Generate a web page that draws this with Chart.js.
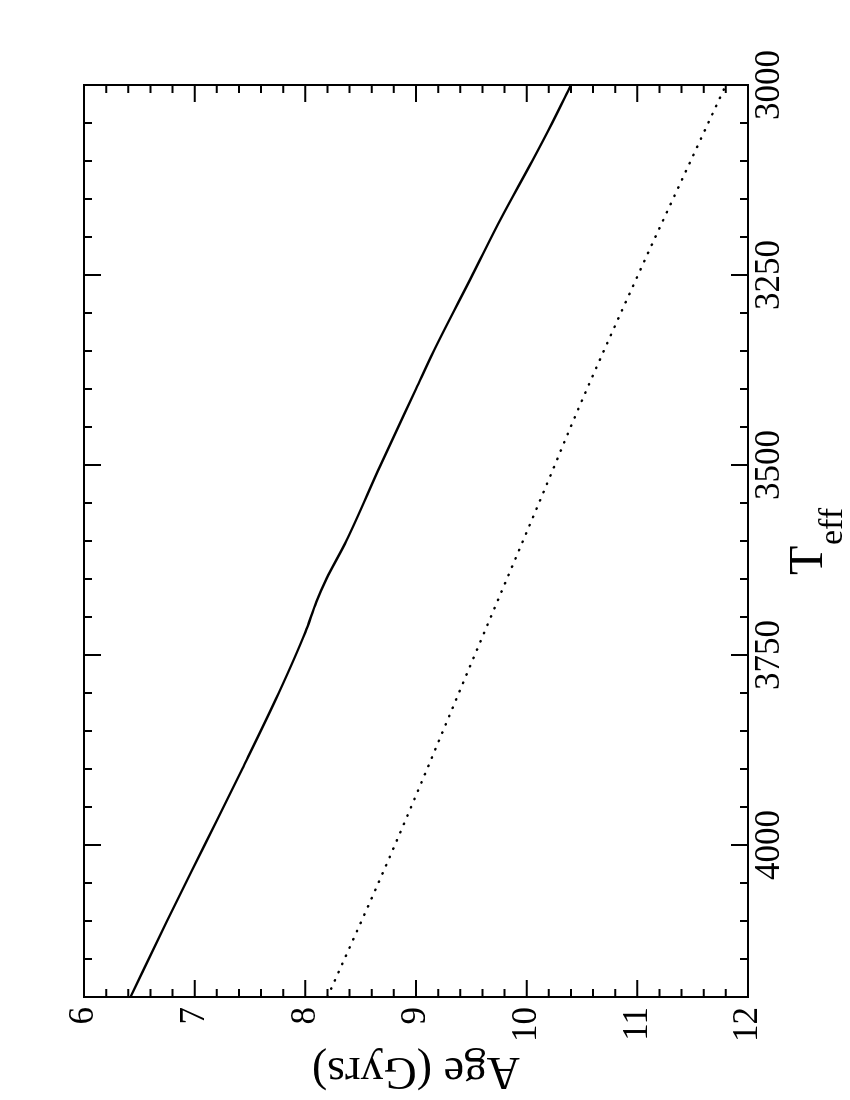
<!DOCTYPE html>
<html>
<head>
<meta charset="utf-8">
<script src="https://cdn.jsdelivr.net/npm/chart.js@4/dist/chart.umd.min.js"></script>
<style>
  html, body { margin: 0; padding: 0; background: #fff; }
  #wrap {
    position: absolute; left: 0; top: 0;
    width: 1100px; height: 850px;
    transform-origin: 0 0;
    transform: translateY(1100px) rotate(-90deg);
  }
</style>
</head>
<body>
<div id="wrap"><canvas id="chart" width="1100" height="850"></canvas></div>
<script>
// solid curve
const teffSolid = [4200, 4100, 4000, 3900, 3800, 3720, 3680, 3650, 3600, 3500, 3400, 3350, 3250, 3175, 3100, 3050, 3000];
const ageSolid  = [6.42, 6.75, 7.09, 7.43, 7.76, 8.00, 8.10, 8.19, 8.37, 8.68, 9.00, 9.16, 9.51, 9.77, 10.05, 10.23, 10.40];
// dotted curve
const teffDotted = [4200, 4020, 3740, 3540, 3415, 3220, 3135, 3000];
const ageDotted  = [8.20, 8.75, 9.56, 10.14, 10.50, 11.10, 11.37, 11.80];
// axes
const teffRange = [3000, 4200];
const teffMajor = 250, teffMinor = 50;
const ageRange = [6, 12];
const ageMajor = 1, ageMinor = 0.2;

const SERIF = "'Liberation Serif', 'DejaVu Serif', serif";

function pairs(xs, ys) {
    return xs.map((x, i) => ({ x: x, y: ys[i] }));
}
function isMajor(v, step) {
    const r = v / step;
    return Math.abs(r - Math.round(r)) < 1e-6;
}

// frame + inward ticks on all four sides, plus T_eff title with subscript
const framePlugin = {
    id: 'frame',
    afterDraw(chart) {
        const ctx = chart.ctx;
        const a = chart.chartArea;
        const xs = chart.scales.x, ys = chart.scales.y;
        ctx.save();
        ctx.strokeStyle = '#000';
        ctx.lineWidth = 2;
        ctx.strokeRect(a.left, a.top, a.right - a.left, a.bottom - a.top);
        ctx.beginPath();
        xs.ticks.forEach(t => {
            const px = xs.getPixelForValue(t.value);
            const len = isMajor(t.value, teffMajor) ? 17 : 8;
            ctx.moveTo(px, a.bottom); ctx.lineTo(px, a.bottom - len);
            ctx.moveTo(px, a.top); ctx.lineTo(px, a.top + len);
        });
        ys.ticks.forEach(t => {
            const py = ys.getPixelForValue(t.value);
            const len = isMajor(t.value, ageMajor) ? 17 : 8;
            ctx.moveTo(a.left, py); ctx.lineTo(a.left + len, py);
            ctx.moveTo(a.right, py); ctx.lineTo(a.right - len, py);
        });
        ctx.stroke();

        ctx.fillStyle = '#000';
        ctx.textAlign = 'left';
        ctx.textBaseline = 'alphabetic';
        ctx.font = '48px ' + SERIF;
        ctx.fillText('T', 525, 822);
        ctx.font = '34px ' + SERIF;
        ctx.fillText('eff', 555, 842);
        ctx.restore();
    }
};

new Chart(document.getElementById('chart'), {
    type: 'scatter',
    data: {
        datasets: [{
            label: 'solid',
            data: pairs(teffSolid, ageSolid),
            showLine: true,
            borderColor: '#000',
            borderWidth: 2.4,
            pointRadius: 0,
            cubicInterpolationMode: 'monotone'
        }, {
            label: 'dotted',
            data: pairs(teffDotted, ageDotted),
            showLine: true,
            borderColor: '#000',
            borderWidth: 2.4,
            borderDash: [0.5, 8.5],
            borderCapStyle: 'round',
            pointRadius: 0,
            cubicInterpolationMode: 'monotone'
        }]
    },
    options: {
        responsive: false,
        animation: false,
        layout: { padding: { left: 0, top: 84, right: 85, bottom: 0 } },
        plugins: {
            legend: { display: false },
            tooltip: { enabled: false }
        },
        scales: {
            x: {
                type: 'linear',
                reverse: true,
                min: teffRange[0],
                max: teffRange[1],
                grid: { display: false, drawTicks: false },
                border: { display: false },
                ticks: {
                    stepSize: teffMinor,
                    autoSkip: false,
                    maxRotation: 0,
                    padding: 1,
                    color: '#000',
                    font: { family: SERIF, size: 35 },
                    callback: v => isMajor(v, teffMajor) ? String(Math.round(v)) : ''
                },
                afterFit: s => { s.height = 102; }
            },
            y: {
                type: 'linear',
                reverse: true,
                min: ageRange[0],
                max: ageRange[1],
                grid: { display: false, drawTicks: false },
                border: { display: false },
                ticks: {
                    stepSize: ageMinor,
                    autoSkip: false,
                    padding: 10,
                    color: '#000',
                    font: { family: SERIF, size: 35 },
                    callback: v => isMajor(v, ageMajor) ? String(Math.round(v)) : ''
                },
                title: {
                    display: true,
                    text: 'Age (Gyrs)',
                    color: '#000',
                    font: { family: SERIF, size: 46 },
                    padding: { top: 2, bottom: 0 }
                },
                afterFit: s => { s.width = 103; }
            }
        }
    },
    plugins: [framePlugin]
});
</script>
</body>
</html>
